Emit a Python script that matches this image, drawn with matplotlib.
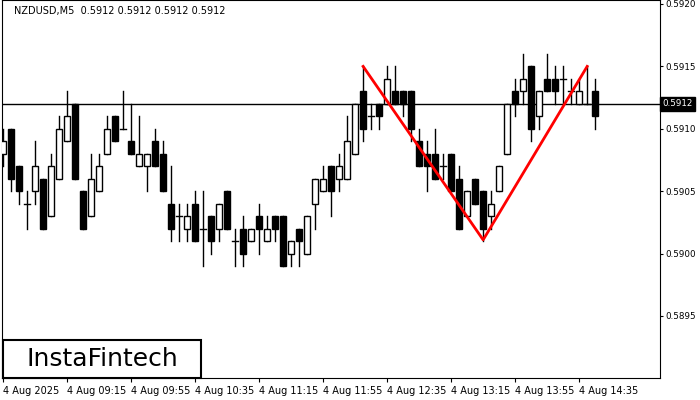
import matplotlib
matplotlib.use("Agg")
import matplotlib.pyplot as plt
from matplotlib.patches import Rectangle

opens = [.5908,.5910,.5907,.5904,.5905,.5906,.5903,.5906,.5909,.5912,.5905,.5903,.5905,.5908,.5911,.5910,.5909,.5907,.5907,.5909,
         .5908,.5904,.5903,.5902,.5904,.5902,.5903,.5902,.5905,.5901,.5902,.5901,.5903,.5901,.5903,.5903,.5900,.5902,.5900,.5904,
         .5905,.5907,.5906,.5906,.5908,.5913,.5911,.5912,.5912,.5913,.5913,.5913,.5909,.5908,.5908,.5907,.5908,.5906,.5903,.5906,
         .5905,.5903,.5905,.5908,.5913,.5913,.5915,.5911,.5914,.5914,.5914,.5913,.5912,.5912,.5913]
closes = [.5909,.5906,.5905,.5904,.5907,.5902,.5907,.5910,.5911,.5906,.5902,.5906,.5907,.5910,.5909,.5910,.5908,.5908,.5908,.5907,
          .5905,.5902,.5903,.5903,.5901,.5902,.5901,.5904,.5902,.5901,.5900,.5902,.5902,.5902,.5902,.5899,.5901,.5901,.5903,.5906,
          .5906,.5905,.5907,.5909,.5912,.5910,.5911,.5911,.5914,.5912,.5912,.5910,.5907,.5907,.5906,.5907,.5905,.5902,.5905,.5904,
          .5902,.5904,.5907,.5912,.5912,.5914,.5910,.5913,.5913,.5913,.5914,.5913,.5913,.5912,.5911]
highs = [.5910,.5910,.5907,.5905,.5909,.5906,.5908,.5911,.5913,.5912,.5905,.5908,.5908,.5911,.5911,.5913,.5912,.5911,.5908,.5910,
         .5909,.5907,.5904,.5904,.5905,.5905,.5903,.5904,.5905,.5902,.5903,.5902,.5904,.5903,.5903,.5903,.5901,.5902,.5903,.5906,
         .5907,.5907,.5908,.5911,.5912,.5915,.5912,.5912,.5915,.5915,.5913,.5913,.5910,.5909,.5910,.5908,.5908,.5907,.5905,.5906,
         .5905,.5905,.5907,.5912,.5914,.5916,.5915,.5913,.5916,.5915,.5915,.5914,.5914,.5915,.5914]
lows = [.5907,.5905,.5904,.5902,.5904,.5902,.5903,.5906,.5909,.5906,.5902,.5903,.5905,.5908,.5909,.5910,.5908,.5907,.5905,.5907,
        .5905,.5901,.5901,.5901,.5901,.5899,.5900,.5901,.5902,.5899,.5899,.5901,.5900,.5901,.5901,.5899,.5899,.5899,.5900,.5902,
        .5905,.5903,.5905,.5906,.5908,.5909,.5910,.5910,.5912,.5912,.5911,.5909,.5907,.5905,.5906,.5906,.5905,.5902,.5903,.5904,
        .5901,.5902,.5905,.5908,.5911,.5912,.5909,.5910,.5913,.5912,.5912,.5912,.5912,.5912,.5910]
pattern_idx = [45, 60, 73]
pattern_price = [0.5915, 0.59011, 0.5915]
current_price = 0.5912
xtick_idx = [0, 8, 16, 24, 32, 40, 48, 56, 64, 72]
xtick_labels = ["4 Aug 2025", "4 Aug 09:15", "4 Aug 09:55", "4 Aug 10:35", "4 Aug 11:15",
                "4 Aug 11:55", "4 Aug 12:35", "4 Aug 13:15", "4 Aug 13:55", "4 Aug 14:35"]
yticks = [0.5895, 0.5900, 0.5905, 0.5910, 0.5915, 0.5920]

fig = plt.figure(figsize=(7, 4), dpi=100)
ax = fig.add_axes([2/700, 22/400, 658/700, 378/400])
w = 0.75
for i, (o, c, h, l) in enumerate(zip(opens, closes, highs, lows)):
    ax.plot([i, i], [l, h], color="black", lw=1, zorder=2)
    if abs(o - c) < 1e-7:
        ax.plot([i - w/2, i + w/2], [o, o], color="black", lw=1, zorder=3)
    else:
        face = "white" if c > o else "black"
        ax.add_patch(Rectangle((i - w/2, min(o, c)), w, abs(c - o), facecolor=face,
                               edgecolor="black", lw=1, zorder=3))
ax.axhline(current_price, color="black", lw=1, zorder=1)
ax.plot(pattern_idx, pattern_price, color="red", lw=2, zorder=4)
ax.set_xlim(-0.125, 82.1)
ax.set_ylim(0.589003, 0.592032)
ax.yaxis.tick_right()
ax.set_yticks(yticks)
ax.set_yticklabels([f"{v:.4f}" for v in yticks], fontsize=6.3)
ax.set_xticks(xtick_idx)
ax.set_xticklabels(xtick_labels, fontsize=7, ha="left")
ax.tick_params(axis="x", length=3, pad=3)
ax.tick_params(axis="y", length=2, pad=2)
ax.text(0.018, 0.985, "NZDUSD,M5  0.5912 0.5912 0.5912 0.5912", transform=ax.transAxes,
        fontsize=7, va="top", ha="left")
ax.text(1.003, (current_price - 0.589003) / (0.592032 - 0.589003), f"{current_price:.4f}",
        transform=ax.transAxes, fontsize=6.3, color="white", va="center", ha="left",
        bbox=dict(facecolor="black", edgecolor="black", boxstyle="square,pad=0.25"), zorder=5)
fig.add_artist(Rectangle((3/700, 1 - 378/400), 198/700, 38/400, transform=fig.transFigure,
                         facecolor="white", edgecolor="black", lw=1.5, zorder=6))
fig.text(102/700, 1 - 359/400, "InstaFintech", fontsize=18, va="center", ha="center", zorder=7)
fig.savefig("out.png", dpi=100)
